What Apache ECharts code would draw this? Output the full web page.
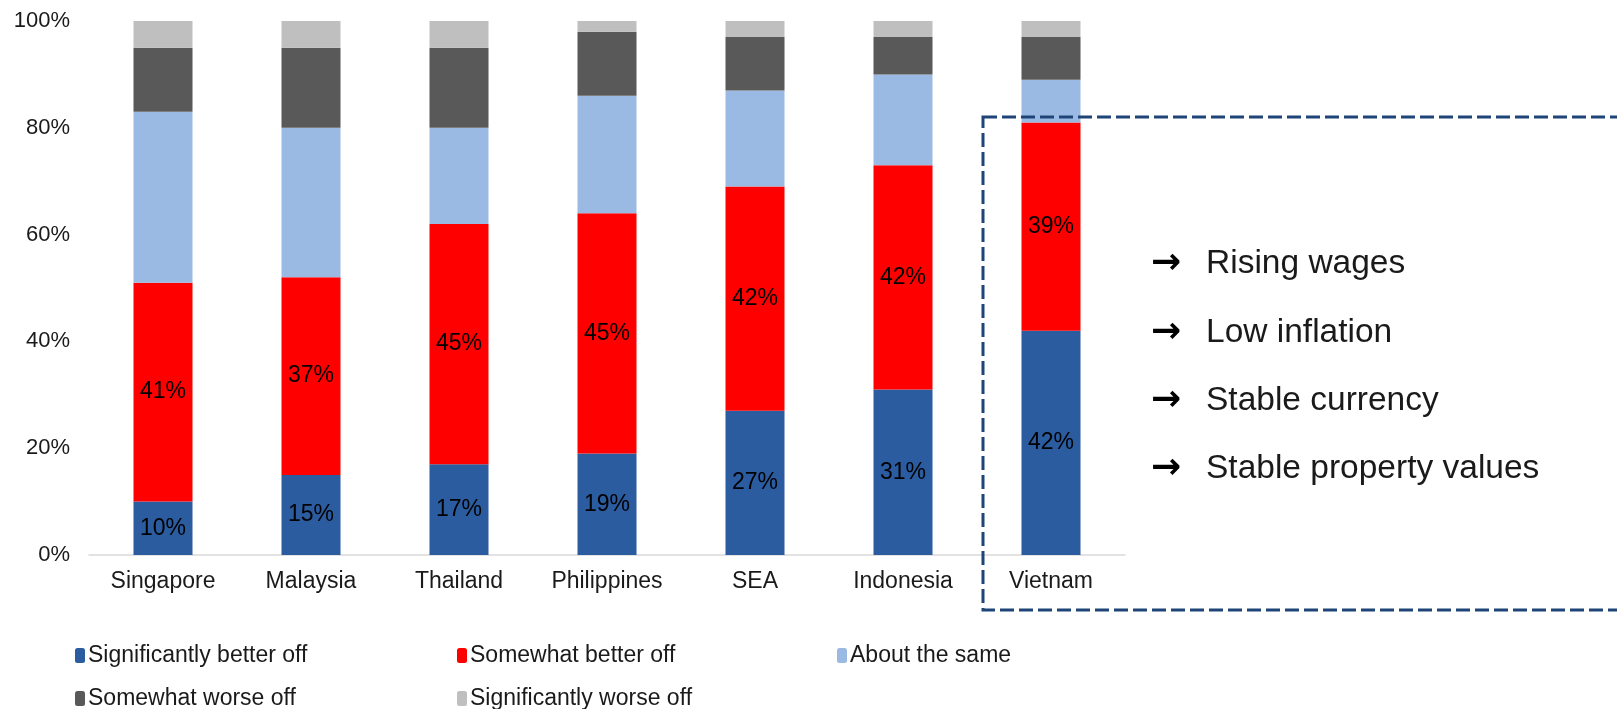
<!DOCTYPE html>
<html>
<head>
<meta charset="utf-8">
<script src="https://cdn.jsdelivr.net/npm/echarts@6/dist/echarts.min.js"></script>
<style>
html,body{margin:0;padding:0;background:#fff;}
#chart{width:1617px;height:709px;}
</style>
</head>
<body>
<div id="chart"></div>
<script>
const categories = ['Singapore','Malaysia','Thailand','Philippines','SEA','Indonesia','Vietnam'];
const seriesNames = ['Significantly better off','Somewhat better off','About the same','Somewhat worse off','Significantly worse off'];
const sigBetter  = [10, 15, 17, 19, 27, 31, 42];
const someBetter = [41, 37, 45, 45, 42, 42, 39];
const aboutSame  = [32, 28, 18, 22, 18, 17, 8];
const someWorse  = [12, 15, 15, 12, 10, 7, 8];
const sigWorse   = [5, 5, 5, 2, 3, 3, 3];
const yTicks = [0, 20, 40, 60, 80, 100];
const bullets = ['Rising wages','Low inflation','Stable currency','Stable property values'];

const colors = ['#2b5ca0','#ff0000','#9abae3','#595959','#bfbfbf'];
const values = [sigBetter, someBetter, aboutSame, someWorse, sigWorse];
const FONT = 'Liberation Sans, Arial, sans-serif';

const chart = echarts.init(document.getElementById('chart'));

const series = values.map((v, i) => ({
  name: seriesNames[i],
  type: 'bar',
  stack: 'total',
  barWidth: 59,
  data: v,
  itemStyle: { color: colors[i] },
  label: {
    show: i < 2,
    position: 'inside',
    formatter: '{c}%',
    color: '#000',
    fontSize: 23,
    fontFamily: FONT
  },
  emphasis: { disabled: true }
}));

const legendPos = [
  { left: 75, top: 644 },
  { left: 457, top: 644 },
  { left: 837, top: 644 },
  { left: 75, top: 687 },
  { left: 457, top: 687 }
];
const legends = seriesNames.map((n, i) => ({
  data: [n],
  left: legendPos[i].left,
  top: legendPos[i].top,
  padding: 0,
  itemWidth: 10,
  itemHeight: 15,
  itemGap: 0,
  selectedMode: false,
  textStyle: { fontSize: 23, fontFamily: FONT, color: '#1a1a1a', padding: [0, 0, 0, -2] }
}));

const graphics = [{
  type: 'rect',
  shape: { x: 983, y: 117, width: 700, height: 493 },
  style: { fill: 'none', stroke: '#1f4478', lineWidth: 3, lineDash: [14, 5] },
  z: 10
}];
const rowY = [264, 333, 401, 469];
bullets.forEach((b, i) => {
  graphics.push({
    type: 'text',
    x: 1151, y: rowY[i],
    style: { text: '→', font: 'bold 36px DejaVu Sans', fill: '#000', textVerticalAlign: 'middle', verticalAlign: 'middle' },
    z: 10
  });
  graphics.push({
    type: 'text',
    x: 1206, y: rowY[i],
    style: { text: b, font: '33.5px ' + FONT, fill: '#1a1a1a', textVerticalAlign: 'middle', verticalAlign: 'middle' },
    z: 10
  });
});

chart.setOption({
  animation: false,
  backgroundColor: '#fff',
  grid: { left: 89, right: 492, top: 21, bottom: 154, containLabel: false },
  legend: legends,
  xAxis: {
    type: 'category',
    data: categories,
    axisTick: { show: false },
    axisLine: { lineStyle: { color: '#d9d9d9', width: 1.5 } },
    axisLabel: { fontSize: 23, fontFamily: FONT, color: '#1a1a1a', margin: 15 }
  },
  yAxis: {
    type: 'value',
    min: yTicks[0],
    max: yTicks[yTicks.length - 1],
    interval: 20,
    splitLine: { show: false },
    axisLine: { show: false },
    axisTick: { show: false },
    axisLabel: { fontSize: 22, fontFamily: FONT, color: '#1a1a1a', margin: 19, formatter: '{value}%' }
  },
  series: series,
  graphic: graphics
});
</script>
</body>
</html>
